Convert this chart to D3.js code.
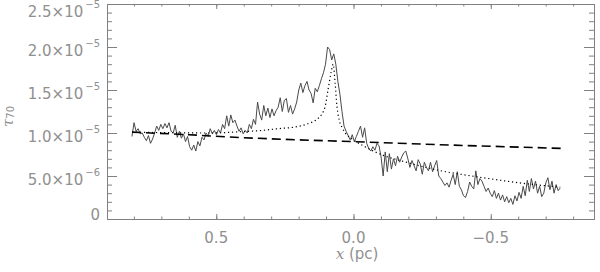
<!DOCTYPE html>
<html>
<head>
<meta charset="utf-8">
<script src="https://cdn.jsdelivr.net/npm/d3@7"></script>
<style>
body { margin: 0; background: #fff; }
svg { display: block; }
</style>
</head>
<body>
<script>
const w = 600
const h = 272

// observed profile, tau70 in units of 1e-5, sampled from x = 0.807 pc in steps of -0.0075 pc
const obsStart = 0.807
const obsStep = -0.0075
const tauObs = [
    0.96, 1.12, 1.02, 1.05, 0.99, 1.0, 0.95, 0.91, 0.97, 0.88,
    0.93, 1.0, 1.08, 1.03, 1.1, 1.05, 1.11, 1.06, 1.12, 1.02,
    1.0, 1.09, 0.95, 1.02, 0.94, 0.99, 0.9, 0.96, 0.84, 0.8,
    0.86, 0.79, 0.9, 0.85, 0.95, 0.92, 1.0, 0.96, 1.05, 0.99,
    1.03, 0.98, 1.04, 1.0, 1.1, 1.05, 1.2, 1.08, 1.21, 1.12,
    1.15, 1.08, 1.02, 1.06, 0.99, 1.03, 1.0, 1.1, 1.05, 1.16,
    1.1, 1.36, 1.22, 1.15, 1.32, 1.2, 1.29, 1.18, 1.28, 1.2,
    1.26, 1.3, 1.41, 1.25, 1.38, 1.4, 1.24, 1.32, 1.22, 1.28,
    1.36, 1.5, 1.58, 1.47, 1.55, 1.6, 1.5, 1.46, 1.35, 1.52,
    1.48, 1.55, 1.63, 1.7, 1.8, 2.0, 1.97, 1.85, 1.92, 1.8,
    1.6, 1.45, 1.25, 1.08, 1.02, 0.97, 0.92, 0.98, 0.9, 0.96,
    1.02, 1.08, 0.95, 1.06, 0.88, 0.82, 0.79, 0.84, 0.8, 0.88,
    0.85, 0.72, 0.5, 0.78, 0.55, 0.76, 0.58, 0.7, 0.62, 0.73,
    0.66, 0.72, 0.77, 0.79, 0.7, 0.6, 0.68, 0.62, 0.56, 0.69,
    0.64, 0.52, 0.66, 0.6, 0.56, 0.66, 0.55, 0.62, 0.68, 0.5,
    0.47, 0.43, 0.39, 0.42, 0.37, 0.45, 0.52, 0.4, 0.55, 0.38,
    0.34, 0.27, 0.25, 0.32, 0.43, 0.38, 0.35, 0.56, 0.4, 0.47,
    0.44, 0.38, 0.32, 0.36, 0.3, 0.26, 0.33, 0.24, 0.3, 0.22,
    0.28, 0.2, 0.26, 0.19, 0.24, 0.17, 0.27, 0.21, 0.31, 0.24,
    0.38, 0.27, 0.45, 0.32, 0.47, 0.35, 0.44, 0.3, 0.38, 0.26,
    0.3, 0.42, 0.48, 0.34, 0.44, 0.3, 0.4, 0.33, 0.36
]

// model curve (dotted)
const modelX = [0.807, 0.523, 0.384, 0.333, 0.275, 0.213, 0.165, 0.129, 0.104, 0.093, 0.082, 0.074,
    0.067, 0.060, 0.052, 0.041, 0.030, 0.005, -0.042, -0.108, -0.181, -0.305, -0.472, -0.618, -0.753]
const modelTau = [1.01, 1.0, 1.02, 1.03, 1.05, 1.07, 1.11, 1.17, 1.3, 1.5, 1.7, 1.8,
    1.58, 1.3, 1.15, 1.06, 1.0, 0.93, 0.84, 0.74, 0.67, 0.57, 0.48, 0.415, 0.37]

// background level (dashed)
const bgX = [0.807, 0.6, 0.4, 0.2, 0.0, -0.35, -0.77]
const bgTau = [1.01, 0.98, 0.945, 0.92, 0.9, 0.86, 0.82]

const xTicks = [0.5, 0.0, -0.5]
const xTickLabels = ['0.5', '0.0', '\u22120.5']
const yTicks = [0, 0.5, 1.0, 1.5, 2.0, 2.5]
const yTickMant = ['0', '5.0\u00d710', '1.0\u00d710', '1.5\u00d710', '2.0\u00d710', '2.5\u00d710']
const yTickExp = ['', '\u22126', '\u22125', '\u22125', '\u22125', '\u22125']

const pLeft = 107, pRight = 594, pTop = 4, pBottom = 219
const axisColor = '#808080'
const textColor = '#909090'

const x = d3.scaleLinear().domain([0.898, -0.876]).range([pLeft, pRight])
const y = d3.scaleLinear().domain([0, 2.5]).range([pBottom, pTop])

const svg = d3.select('body').append('svg')
    .attr('width', w)
    .attr('height', h)
    .style('font-family', 'DejaVu Sans')

// ticks (IDL style, pointing inward, on all four sides)
const xMinor = d3.range(-8, 9).map(function (d) { return d / 10 })
    .filter(function (d) { return d <= 0.898 && d >= -0.876 })
const yMinor = d3.range(0, 26).map(function (d) { return d / 10 })

function tickGroup(axis, tx, ty) {
    const g = svg.append('g')
        .attr('transform', 'translate(' + tx + ',' + ty + ')')
        .call(axis)
    g.select('.domain').remove()
    g.selectAll('line').attr('stroke', axisColor)
    g.selectAll('text').remove()
}

tickGroup(d3.axisBottom(x).tickValues(xMinor).tickSize(-2.5), 0, pBottom)
tickGroup(d3.axisBottom(x).tickValues(xTicks).tickSize(-5), 0, pBottom)
tickGroup(d3.axisTop(x).tickValues(xMinor).tickSize(-2.5), 0, pTop)
tickGroup(d3.axisTop(x).tickValues(xTicks).tickSize(-5), 0, pTop)
tickGroup(d3.axisLeft(y).tickValues(yMinor).tickSize(-5), pLeft, 0)
tickGroup(d3.axisLeft(y).tickValues(yTicks).tickSize(-10), pLeft, 0)
tickGroup(d3.axisRight(y).tickValues(yMinor).tickSize(-5), pRight, 0)
tickGroup(d3.axisRight(y).tickValues(yTicks).tickSize(-10), pRight, 0)

svg.append('rect')
    .attr('x', pLeft + 0.5)
    .attr('y', pTop + 0.5)
    .attr('width', pRight - pLeft)
    .attr('height', pBottom - pTop)
    .attr('fill', 'none')
    .attr('stroke', axisColor)

// tick labels
svg.selectAll('.xlab')
    .data(xTicks)
    .enter()
    .append('text')
    .attr('x', function (d) { return x(d) })
    .attr('y', 243)
    .attr('text-anchor', 'middle')
    .attr('font-size', 15)
    .attr('fill', textColor)
    .text(function (d, i) { return xTickLabels[i] })

const ylab = svg.selectAll('.ylab')
    .data(yTicks)
    .enter()
    .append('text')
    .attr('x', 100)
    .attr('y', function (d, i) {
        if (!yTickExp[i]) return y(d) + 1
        return Math.max(y(d) + 9, 17)
    })
    .attr('text-anchor', 'end')
    .attr('font-size', 15)
    .attr('fill', textColor)

ylab.append('tspan').text(function (d, i) { return yTickMant[i] })
ylab.append('tspan')
    .attr('dx', 2)
    .attr('dy', -9)
    .attr('font-size', 10)
    .text(function (d, i) { return yTickExp[i] })

// axis titles
const xt = svg.append('text')
    .attr('x', 357)
    .attr('y', 259)
    .attr('text-anchor', 'middle')
    .attr('font-size', 15)
    .attr('fill', textColor)
xt.append('tspan').attr('font-family', 'DejaVu Serif').attr('font-style', 'italic').text('x')
xt.append('tspan').text(' (pc)')

const yt = svg.append('text')
    .attr('transform', 'translate(13,127) rotate(-90)')
    .attr('font-size', 15)
    .attr('fill', textColor)
yt.append('tspan').attr('font-family', 'DejaVu Serif').attr('font-style', 'italic').text('\u03c4')
yt.append('tspan').attr('font-size', 10).attr('dy', 1).text('70')

// data
const line = d3.line()
    .x(function (d) { return x(d[0]) })
    .y(function (d) { return y(d[1]) })

const obs = tauObs.map(function (v, i) { return [obsStart + i * obsStep, v] })

svg.append('path')
    .attr('d', line(obs))
    .attr('fill', 'none')
    .attr('stroke', '#4a4a4a')
    .attr('stroke-width', 1)

svg.append('path')
    .attr('d', line(d3.zip(bgX, bgTau)))
    .attr('fill', 'none')
    .attr('stroke', '#000')
    .attr('stroke-width', 1.6)
    .attr('stroke-dasharray', '9,5')

svg.append('path')
    .attr('d', d3.line().curve(d3.curveMonotoneX)
        .x(function (d) { return x(d[0]) })
        .y(function (d) { return y(d[1]) })(d3.zip(modelX, modelTau)))
    .attr('fill', 'none')
    .attr('stroke', '#000')
    .attr('stroke-width', 1.2)
    .attr('stroke-dasharray', '1.2,2.8')
</script>
</body>
</html>
